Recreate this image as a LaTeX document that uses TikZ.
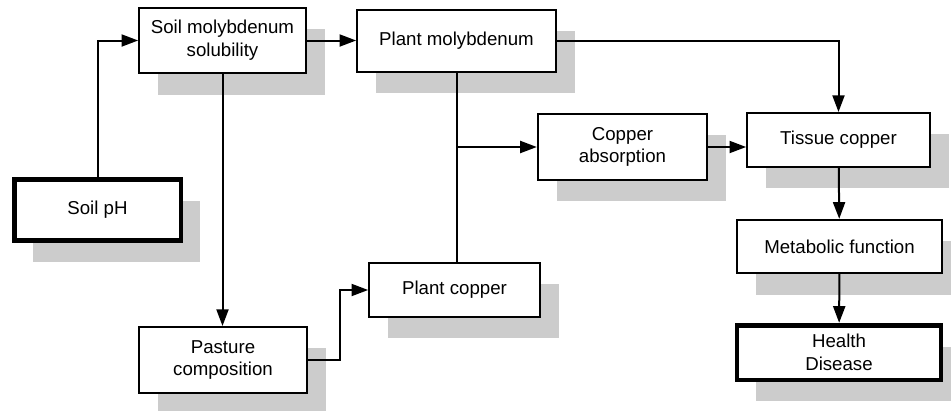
\documentclass[tikz,border=0pt]{standalone}
\usepackage{fontspec}
\setmainfont{Liberation Sans}
\usepackage{tikz}
\usetikzlibrary{arrows.meta, positioning, shadows}
\definecolor{myshadow}{rgb}{0.80, 0.80, 0.80}
\tikzstyle{factor} = [rectangle, align=center, inner sep=2pt, draw=black, line width=1.5pt, fill=white, drop shadow={shadow xshift=14pt, shadow yshift=-16pt, fill=myshadow, opacity=1}]
\tikzstyle{endpoint} = [factor, line width=3.5pt]
\tikzstyle{arrow} = [line width=1.5pt, -{Triangle[length=12.5pt, width=9pt]}]

\begin{document}
\begin{tikzpicture}[x=0.75pt, y=-0.75pt, font=\fontsize{14}{17}\selectfont]
    \useasboundingbox (0,0) rectangle (951,411);

    \node (soilph) [endpoint, minimum width=125pt, minimum height=46pt] at (97.5,210) {Soil pH};
    \node (solub) [factor, minimum width=125pt, minimum height=49pt] at (222.5,40.5) {Soil molybdenum\\solubility};
    \node (plantmo) [factor, minimum width=149pt, minimum height=46.5pt] at (456.5,41) {Plant molybdenum};
    \node (cuabs) [factor, minimum width=127pt, minimum height=49.5pt] at (622.5,147) {Copper\\absorption};
    \node (tissue) [factor, minimum width=137pt, minimum height=40.5pt] at (838.5,140) {Tissue copper};
    \node (metab) [factor, minimum width=154pt, minimum height=40pt] at (839.5,246.5) {Metabolic function};
    \node (health) [endpoint, minimum width=153pt, minimum height=41pt] at (839,352.5) {Health\\Disease};
    \node (plantcu) [factor, minimum width=128pt, minimum height=40.5pt] at (454.5,290) {Plant copper};
    \node (pasture) [factor, minimum width=126pt, minimum height=49.5pt] at (223,360) {Pasture\\composition};
    \coordinate (split) at (plantmo.south |- cuabs.west);

    \draw [arrow] (soilph.north) |- (solub.west);
    \draw [arrow] (solub.east) -- (plantmo.west |- solub.east);
    \draw [arrow] (solub.south) -- (pasture.north -| solub.south);
    \draw [arrow] (plantmo.east) -| (tissue.north);
    \draw [line width=1.5pt] (plantmo.south) -- (plantmo.south |- plantcu.north);
    \draw [arrow] (split) -- (cuabs.west);
    \draw [arrow] (cuabs.east) -- (tissue.west |- cuabs.east);
    \draw [arrow] (tissue) -- (metab);
    \draw [arrow] (metab) -- (health);
    \draw [arrow] (pasture.east) -- ++(32,0) |- (plantcu.west);
\end{tikzpicture}
\end{document}
